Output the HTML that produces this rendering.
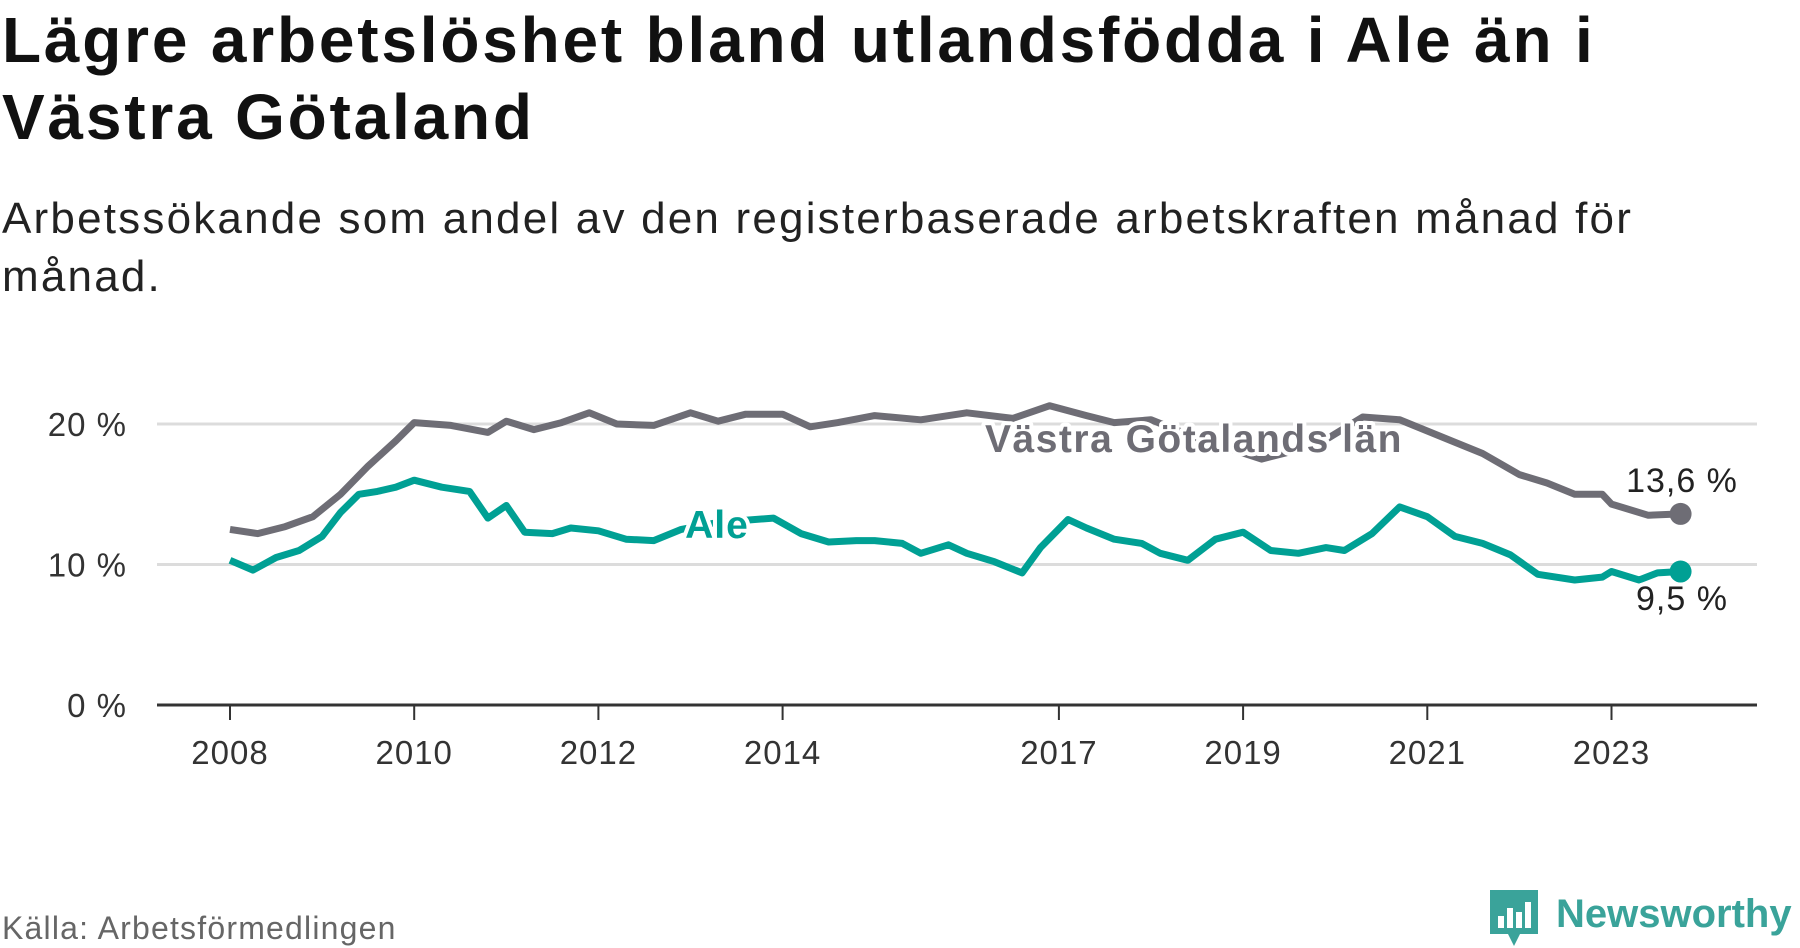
<!DOCTYPE html>
<html><head><meta charset="utf-8">
<style>
body{margin:0;background:#fff;width:1800px;height:948px;overflow:hidden;font-family:"Liberation Sans","DejaVu Sans",sans-serif;}
#title{position:absolute;left:2px;top:2px;font-size:64px;letter-spacing:2.8px;font-weight:bold;line-height:77px;color:#111;margin:0;}
#sub{position:absolute;left:2px;top:190px;font-size:44px;letter-spacing:2.2px;line-height:58px;color:#222;margin:0;}
#src{position:absolute;left:2px;top:910px;font-size:32px;letter-spacing:1.2px;color:#666;}
svg{position:absolute;left:0;top:0;}
</style></head><body>
<h1 id="title">Lägre arbetslöshet bland utlandsfödda i Ale än i<br>Västra Götaland</h1>
<p id="sub">Arbetssökande som andel av den registerbaserade arbetskraften månad för<br>månad.</p>
<div id="src">Källa: Arbetsförmedlingen</div>
<svg id="chart" width="1800" height="948"></svg>
<script>
const yTicks=[0,10,20];
const xTickYears=[2008,2010,2012,2014,2017,2019,2021,2023];
const vgYears=[2008.0,2008.3,2008.6,2008.9,2009.2,2009.5,2009.8,2010.0,2010.4,2010.8,2011.0,2011.3,2011.6,2011.9,2012.2,2012.6,2013.0,2013.3,2013.6,2014.0,2014.3,2014.6,2015.0,2015.5,2016.0,2016.5,2016.9,2017.3,2017.6,2018.0,2018.5,2019.2,2019.8,2020.3,2020.7,2021.0,2021.3,2021.6,2022.0,2022.3,2022.6,2022.9,2023.0,2023.4,2023.75];
const vgValues=[12.5,12.2,12.7,13.4,15,17,18.8,20.1,19.9,19.4,20.2,19.6,20.1,20.8,20,19.9,20.8,20.2,20.7,20.7,19.8,20.1,20.6,20.3,20.8,20.4,21.3,20.6,20.1,20.3,19,17.5,18.5,20.5,20.3,19.5,18.7,17.9,16.4,15.8,15.0,15.0,14.3,13.5,13.6];
const aleYears=[2008.0,2008.25,2008.5,2008.75,2009.0,2009.2,2009.4,2009.6,2009.8,2010.0,2010.3,2010.6,2010.8,2011.0,2011.2,2011.5,2011.7,2012.0,2012.3,2012.6,2012.9,2013.3,2013.9,2014.2,2014.5,2014.8,2015.0,2015.3,2015.5,2015.8,2016.0,2016.3,2016.6,2016.8,2017.1,2017.3,2017.6,2017.9,2018.1,2018.4,2018.7,2019.0,2019.3,2019.6,2019.9,2020.1,2020.4,2020.7,2021.0,2021.3,2021.6,2021.9,2022.2,2022.6,2022.9,2023.0,2023.3,2023.5,2023.75];
const aleValues=[10.3,9.6,10.5,11,12,13.7,15,15.2,15.5,16.0,15.5,15.2,13.3,14.2,12.3,12.2,12.6,12.4,11.8,11.7,12.5,13,13.3,12.2,11.6,11.7,11.7,11.5,10.8,11.4,10.8,10.2,9.4,11.2,13.2,12.6,11.8,11.5,10.8,10.3,11.8,12.3,11,10.8,11.2,11.0,12.2,14.1,13.4,12.0,11.5,10.7,9.3,8.9,9.1,9.5,8.9,9.4,9.5];
const NS='http://www.w3.org/2000/svg';
const svg=document.getElementById('chart');
function X(yr){return 230+(yr-2008)*92.1;}
function Y(v){return 705-v*14.05;}
function mk(tag,attrs,parent){const e=document.createElementNS(NS,tag);for(const k in attrs)e.setAttribute(k,attrs[k]);(parent||svg).appendChild(e);return e;}
yTicks.forEach(t=>{
  if(t>0){const g=mk('line',{x1:157,x2:1757,y1:Y(t),y2:Y(t),stroke:'#dcdcdc','stroke-width':3});
  
  }
  const l=mk('text',{x:127,y:Y(t)+12,'text-anchor':'end','font-size':33,'letter-spacing':1,fill:'#333'});
  
  
  l.textContent=t+' %';
});
const ax=mk('line',{x1:157,x2:1757,y1:705,y2:705,stroke:'#333','stroke-width':3});


xTickYears.forEach(yr=>{
  const tk=mk('line',{x1:X(yr),x2:X(yr),y1:705,y2:720,stroke:'#333','stroke-width':2});
  
  
  const l=mk('text',{x:X(yr),y:764,'text-anchor':'middle','font-size':33,'letter-spacing':1,fill:'#333'});
  
  
  l.textContent=yr;
});
function path(ys,vs){return ys.map((y,i)=>(i?'L':'M')+X(y).toFixed(1)+','+Y(vs[i]).toFixed(1)).join('');}
const pv=mk('path',{d:path(vgYears,vgValues),fill:'none',stroke:'#6e6d75','stroke-width':7,'stroke-linejoin':'round'});


const pa=mk('path',{d:path(aleYears,aleValues),fill:'none',stroke:'#00a094','stroke-width':7,'stroke-linejoin':'round'});


const dv=mk('circle',{cx:X(vgYears[vgYears.length-1]),cy:Y(vgValues[vgValues.length-1]),r:11,fill:'#6e6d75'});


const da=mk('circle',{cx:X(aleYears[aleYears.length-1]),cy:Y(aleValues[aleValues.length-1]),r:11,fill:'#00a094'});


function lab(txt,x,y,fill,bold,name,size,ls){
  const t=mk('text',{x:x,y:y,'text-anchor':'middle','font-size':size,'letter-spacing':ls,fill:fill,'font-weight':bold?'bold':'normal',stroke:'#fff','stroke-width':8,'paint-order':'stroke','stroke-linejoin':'round'});
  
  
  t.textContent=txt;
}
lab('Västra Götalands län',1194,452,'#6e6d75',true,'vastra-gotaland-label',39,1.5);
lab('Ale',717,538,'#00a094',true,'ale-label',39,1);
lab(vgValues[vgValues.length-1].toString().replace('.',',')+' %',1682,492,'#222',false,'vastra-gotaland-end-value',34,1);
lab(aleValues[aleValues.length-1].toString().replace('.',',')+' %',1682,610,'#222',false,'ale-end-value',34,1);
const lg=mk('g',{});


mk('path',{d:'M1490,890 h48 v44 h-18 l-6,12 l-6,-12 h-18 z',fill:'#3aa39a'},lg);
[[1498,916,6,12],[1507,908,6,20],[1516,912,6,16],[1525,902,6,26]].forEach(b=>mk('rect',{x:b[0],y:b[1],width:b[2],height:b[3],fill:'#fff'},lg));
const lt=mk('text',{x:1556,y:927,'font-size':40,'font-weight':'bold',fill:'#3aa39a'},lg);
lt.textContent='Newsworthy';
</script>
</body></html>
